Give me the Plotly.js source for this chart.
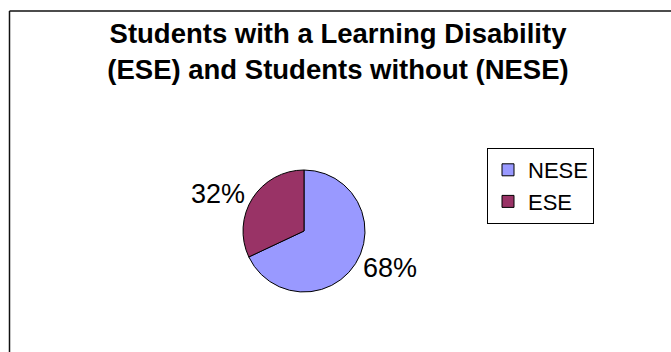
<!DOCTYPE html>
<html>
<head>
<meta charset="utf-8">
<script src="https://cdn.plot.ly/plotly-3.0.1.min.js"></script>
<style>html,body{margin:0;padding:0;background:#fff;}#chart{width:671px;height:352px;}</style>
</head>
<body>
<div id="chart"></div>
<script>
var categories = ["NESE", "ESE"];
var values = [68, 32];
var sliceColors = ["#9999FF", "#993366"];
var titleText = "Students with a Learning Disability<br>(ESE) and Students without (NESE)";

var W = 671, H = 352;
var cx = 304, cy = 231, r = 61;

var trace = {
  type: "pie",
  labels: categories,
  values: values,
  sort: false,
  direction: "clockwise",
  rotation: 0,
  marker: {colors: sliceColors, line: {color: "#000", width: 1}},
  textposition: "outside",
  texttemplate: "%{percent}",
  textfont: {family: "Liberation Sans, Arial, sans-serif", size: 27, color: "#000"},
  hoverinfo: "none",
  automargin: false,
  domain: {
    x: [(cx - r) / W, (cx + r) / W],
    y: [(H - cy - r) / H, (H - cy + r) / H]
  }
};

var layout = {
  width: W,
  height: H,
  margin: {l: 0, r: 0, t: 0, b: 0},
  paper_bgcolor: "#fff",
  plot_bgcolor: "#fff",
  showlegend: true,
  title: {
    text: titleText,
    font: {family: "Liberation Sans, Arial, sans-serif", size: 27.5, color: "#000", weight: "bold"},
    x: 338 / W,
    xanchor: "center",
    xref: "paper",
    y: 1 - 43 / H,
    yanchor: "top",
    yref: "paper"
  },
  legend: {
    x: 487 / W,
    xanchor: "left",
    y: 1 - 148 / H,
    yanchor: "top",
    bordercolor: "#000",
    borderwidth: 1,
    bgcolor: "#fff",
    font: {family: "Liberation Sans, Arial, sans-serif", size: 22, color: "#000"}
  },
  shapes: [
    {type: "line", xref: "paper", yref: "paper", x0: 9.5 / W, x1: 1, y0: 1 - 11 / H, y1: 1 - 11 / H, line: {color: "#111", width: 1.5}},
    {type: "line", xref: "paper", yref: "paper", x0: 9.5 / W, x1: 9.5 / W, y0: 0, y1: 1 - 11 / H, line: {color: "#111", width: 1.5}}
  ]
};

Plotly.newPlot("chart", [trace], layout, {displayModeBar: false, staticPlot: true});
</script>
</body>
</html>
